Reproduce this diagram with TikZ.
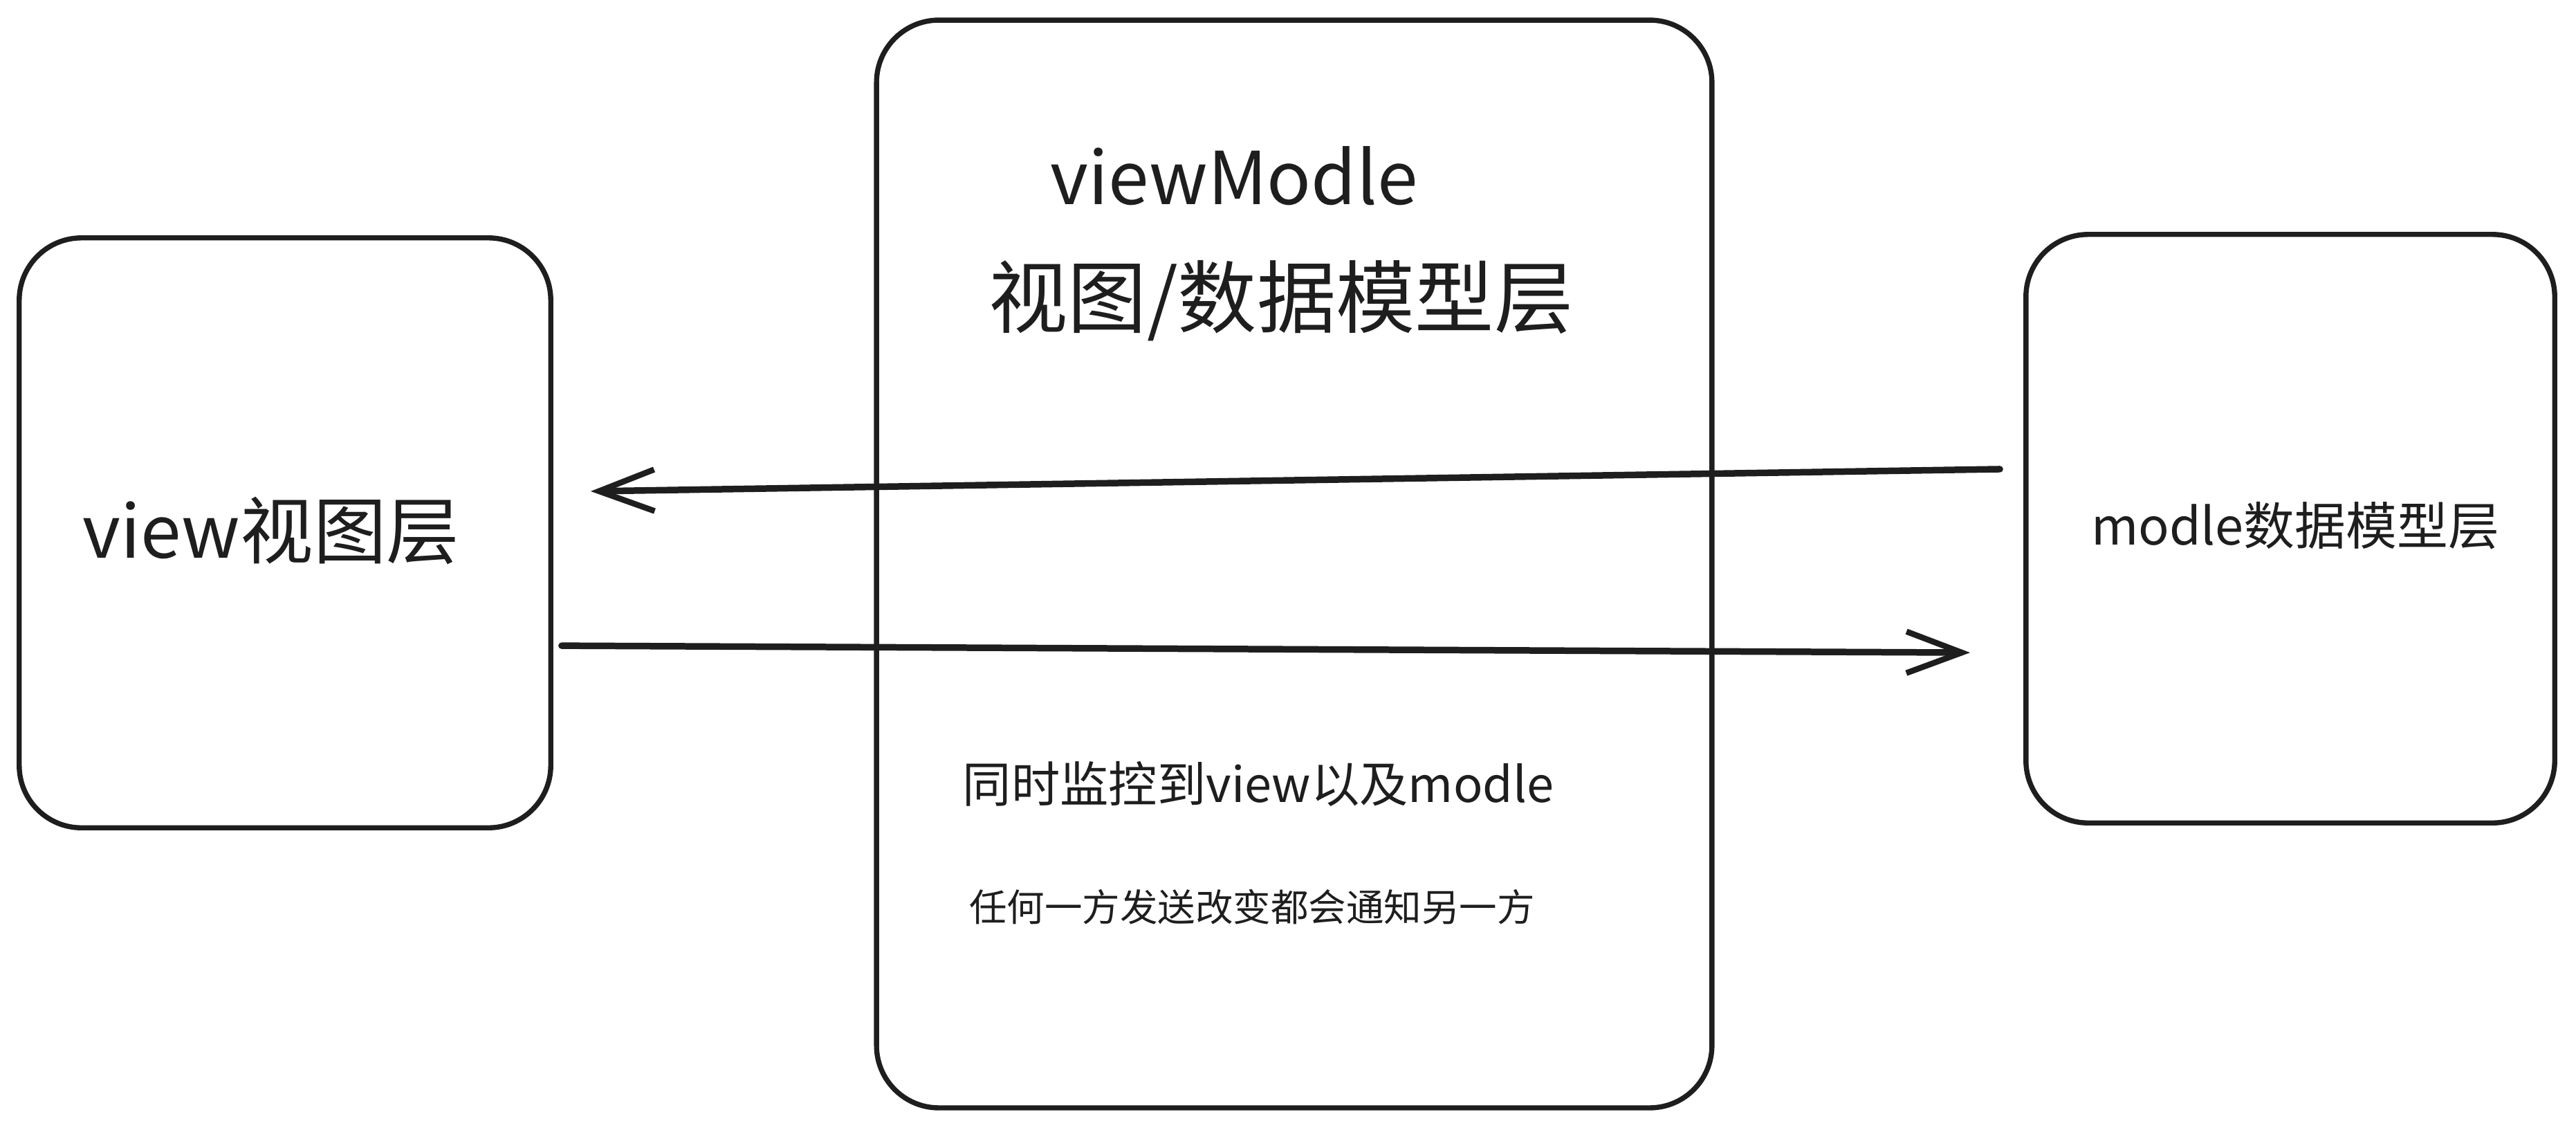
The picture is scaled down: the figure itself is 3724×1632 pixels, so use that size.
\documentclass[tikz,border=0pt]{standalone}
\usepackage{fontspec}
\newfontfamily\cjk{Noto Sans CJK SC}
\usetikzlibrary{positioning,arrows.meta}
\definecolor{ink}{HTML}{1E1E1E}

\begin{document}
\begin{tikzpicture}[x=0.01cm, y=-0.01cm,
  layer/.style={draw=ink, line width=2.1pt, rounded corners=9mm, inner sep=0pt, text=ink},
  note/.style={text=ink, inner sep=0pt},
  flow/.style={draw=ink, line width=2.7pt, line cap=round,
    -{Straight Barb[length=8mm, width=6mm, line width=2.4pt]}}]
  \useasboundingbox (0,0) rectangle (3724,1632);

  % Nodes
  \node[layer, minimum width=7.68cm, minimum height=8.52cm] (view) at (412,770) {};
  \node[layer, minimum width=12.07cm, minimum height=15.71cm] (vm) at (1871,815) {};
  \node[layer, minimum width=7.64cm, minimum height=8.50cm] (model) at (3311,764) {};

  \node[note, font=\cjk\fontsize{30}{36}\selectfont] (viewname) at (392,767) {view视图层};
  \node[note, font=\cjk\fontsize{21}{25}\selectfont] (modelname) at (3318,760) {modle数据模型层};
  \node[note, font=\cjk\fontsize{30}{36}\selectfont] (vmname) at (1784,254) {viewModle};
  \node[note, font=\cjk\fontsize{32.5}{38}\selectfont] (vmtitle) at (1852,435) {视图/数据模型层};
  \node[note, font=\cjk\fontsize{20}{24}\selectfont] (watch) at (1819,1133) {同时监控到view以及modle};
  \node[note, font=\cjk\fontsize{15.5}{19}\selectfont] (notify) at (1810,1311) {任何一方发送改变都会通知另一方};

  % Arrows
  \draw[flow] ([xshift=-0.34cm, yshift=0.86cm]model.west) -- ([xshift=0.54cm, yshift=0.60cm]view.east);
  \draw[flow] ([xshift=0.12cm, yshift=-1.63cm]view.east) -- ([xshift=-0.77cm, yshift=-1.79cm]model.west);
\end{tikzpicture}
\end{document}
